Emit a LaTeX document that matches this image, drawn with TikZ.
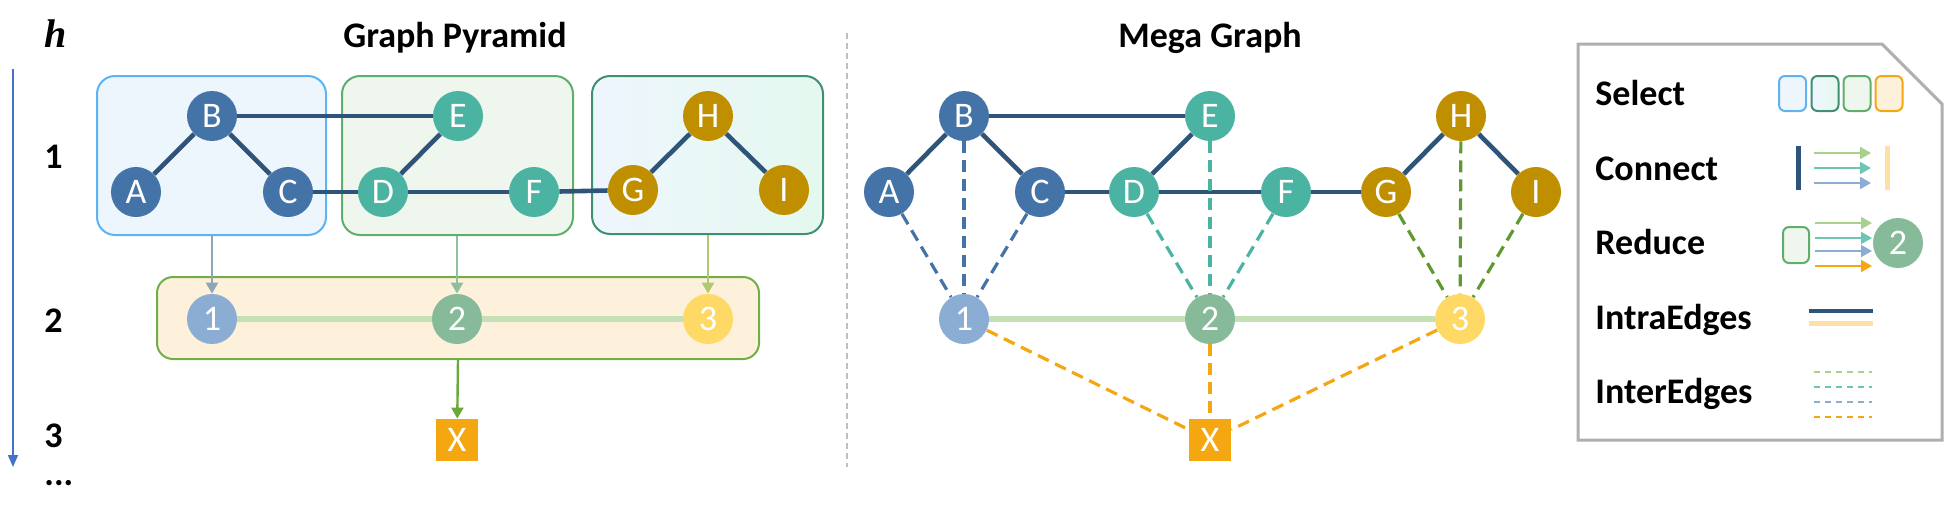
\documentclass[tikz,border=0pt]{standalone}
\usepackage{amsmath, amssymb}
\usepackage{fontspec}
\setmainfont{Carlito}
\newfontfamily\hfont{Liberation Serif}
\usetikzlibrary{arrows.meta}

\definecolor{edgeblue}{HTML}{2F5479}
\definecolor{nblue}{HTML}{4473A8}
\definecolor{nteal}{HTML}{4BB3A1}
\definecolor{ngold}{HTML}{BF8F00}
\definecolor{sblue}{HTML}{8CADD3}
\definecolor{sgreen}{HTML}{87BA99}
\definecolor{syellow}{HTML}{FFD966}
\definecolor{xorange}{HTML}{F5A712}
\definecolor{lgreen}{HTML}{C5E0B4}
\definecolor{boxfblue}{HTML}{EEF6FD}
\definecolor{boxdblue}{HTML}{5EB4F3}
\definecolor{boxfgreen}{HTML}{EFF6EE}
\definecolor{boxdgreen}{HTML}{5DAF6B}
\definecolor{boxdteal}{HTML}{3F8F70}
\definecolor{boxfmint}{HTML}{E4F8EF}
\definecolor{boxforange}{HTML}{FEF1DC}
\definecolor{boxdlime}{HTML}{71AE47}
\definecolor{arrgray}{HTML}{8FA5B8}
\definecolor{arrsage}{HTML}{8FBF9E}
\definecolor{arrlime}{HTML}{B0C872}
\definecolor{arrgreen}{HTML}{6AAA3A}
\definecolor{dashgreen}{HTML}{5F9A30}
\definecolor{legsand}{HTML}{FFE0A3}
\definecolor{leglime}{HTML}{A9D18E}
\definecolor{legteal}{HTML}{6DC6B1}
\definecolor{hblue}{HTML}{4472C4}
\definecolor{leggray}{HTML}{AFAFAF}

\begin{document}
\begin{tikzpicture}[x=0.5pt, y=-0.5pt,
		vert/.style={circle, minimum size=25pt, inner sep=0pt, text=white, font=\fontsize{18}{18}\selectfont},
		group/.style={rounded corners=9pt, line width=1pt, inner sep=0pt},
		intra/.style={edgeblue, line width=2.3pt},
		inter/.style={line width=1.6pt, dash pattern=on 6pt off 3.5pt},
		merge/.style={lgreen, line width=3.2pt},
		feed/.style={line width=1.2pt, -{Triangle[length=5.5pt,width=6pt]}},
		lbl/.style={font=\fontsize{18}{18}\selectfont\bfseries, inner sep=0pt},
		swatch/.style={rounded corners=3pt, line width=1pt, minimum width=13.5pt, minimum height=17.5pt, inner sep=0pt}]
		\useasboundingbox (0,0) rectangle (1944,515);

		% titles and levels
		\node[anchor=base west, inner sep=0pt, font=\fontsize{20}{20}\hfont\bfseries\itshape] (hlab) at (44,47) {h};
		\node[lbl, anchor=base] (tpyr) at (455,47) {Graph Pyramid};
		\node[lbl, anchor=base] (tmega) at (1210,47) {Mega Graph};
		\node[lbl, anchor=base west] (lev1) at (44,168) {1};
		\node[lbl, anchor=base west] (lev2) at (44,332) {2};
		\node[lbl, anchor=base west] (lev3) at (44,447) {3};
		\node[lbl, anchor=base west] (levd) at (44,485) {...};
		\coordinate (htop) at (13,69);
		\coordinate (hbot) at (13,467);
		\draw[hblue, line width=0.8pt, -{Triangle[length=6pt,width=5pt]}] (htop) -- (hbot);

		% graph pyramid
		\node[group, draw=boxdblue, fill=boxfblue, minimum width=114.5pt, minimum height=79.5pt] (gABC) at (211.5,155.5) {};
		\node[group, draw=boxdgreen, fill=boxfgreen, minimum width=115.5pt, minimum height=79.5pt] (gDEF) at (457.5,155.5) {};
		\node[group, draw=boxdteal, left color=boxfblue, right color=boxfmint, minimum width=115.5pt, minimum height=79pt] (gGHI) at (707.5,155) {};
		\node[group, rounded corners=8pt, draw=boxdlime, fill=boxforange, minimum width=301pt, minimum height=41pt] (g123) at (458,318) {};

		\node[vert, fill=nblue] (pA) at (136,192) {A};
		\node[vert, fill=nblue] (pB) at (212,116) {B};
		\node[vert, fill=nblue] (pC) at (288,192) {C};
		\node[vert, fill=nteal] (pD) at (383,192) {D};
		\node[vert, fill=nteal] (pE) at (458,116) {E};
		\node[vert, fill=nteal] (pF) at (534,192) {F};
		\node[vert, fill=ngold] (pG) at (633,190) {G};
		\node[vert, fill=ngold] (pH) at (708,116) {H};
		\node[vert, fill=ngold] (pI) at (784,190) {I};
		\draw[intra] (pA) -- (pB);
		\draw[intra] (pB) -- (pC);
		\draw[intra] (pB) -- (pE);
		\draw[intra] (pC) -- (pD);
		\draw[intra] (pD) -- (pE);
		\draw[intra] (pD) -- (pF);
		\draw[intra] (pF) -- (pG);
		\draw[intra] (pG) -- (pH);
		\draw[intra] (pH) -- (pI);

		\node[vert, fill=sblue] (p1) at (212,319) {1};
		\node[vert, fill=sgreen] (p2) at (457,319) {2};
		\node[vert, fill=syellow] (p3) at (708,319) {3};
		\draw[merge] (p1) -- (p2);
		\draw[merge] (p2) -- (p3);
		\node[vert, rectangle, minimum size=21pt, fill=xorange] (pX) at (457,440) {X};

		\draw[feed, arrgray] (gABC.south -| p1) -- (p1);
		\draw[feed, arrsage] (gDEF.south -| p2) -- (p2);
		\draw[feed, arrlime] (gGHI.south -| p3) -- (p3);
		\draw[feed, arrgreen] (g123.south) -- (pX);

		\draw[black!25, line width=0.7pt, dash pattern=on 3pt off 2pt] (847,33) -- (847,467);

		% mega graph
		\node[vert, fill=nblue] (mA) at (889,192) {A};
		\node[vert, fill=nblue] (mB) at (964,116) {B};
		\node[vert, fill=nblue] (mC) at (1040,192) {C};
		\node[vert, fill=nteal] (mD) at (1134,192) {D};
		\node[vert, fill=nteal] (mE) at (1210,116) {E};
		\node[vert, fill=nteal] (mF) at (1286,192) {F};
		\node[vert, fill=ngold] (mG) at (1386,192) {G};
		\node[vert, fill=ngold] (mH) at (1461,116) {H};
		\node[vert, fill=ngold] (mI) at (1536,192) {I};
		\draw[intra] (mA) -- (mB);
		\draw[intra] (mB) -- (mC);
		\draw[intra] (mB) -- (mE);
		\draw[intra] (mC) -- (mD);
		\draw[intra] (mD) -- (mE);
		\draw[intra] (mD) -- (mF);
		\draw[intra] (mF) -- (mG);
		\draw[intra] (mG) -- (mH);
		\draw[intra] (mH) -- (mI);

		\node[vert, fill=sblue] (m1) at (964,319) {1};
		\node[vert, fill=sgreen] (m2) at (1210,319) {2};
		\node[vert, fill=syellow] (m3) at (1460,319) {3};
		\node[vert, rectangle, minimum size=21pt, fill=xorange] (mX) at (1210,440) {X};
		\draw[merge] (m1) -- (m2);
		\draw[merge] (m2) -- (m3);

		\draw[inter, nblue] (mA) -- (m1);
		\draw[inter, nblue] (mB) -- (m1);
		\draw[inter, nblue] (mC) -- (m1);
		\draw[inter, nteal] (mD) -- (m2);
		\draw[inter, nteal] (mE) -- (m2);
		\draw[inter, nteal] (mF) -- (m2);
		\draw[inter, dashgreen] (mG) -- (m3);
		\draw[inter, dashgreen] (mH) -- (m3);
		\draw[inter, dashgreen] (mI) -- (m3);
		\draw[inter, xorange] (m1) -- (mX);
		\draw[inter, xorange] (m2) -- (mX);
		\draw[inter, xorange] (m3) -- (mX);

		% legend
		\draw[leggray, line width=1.5pt] (1578,44) -- (1882,44) -- (1942,104) -- (1942,440) -- (1578,440) -- cycle;
		\node[lbl, anchor=base west] (kSel) at (1595,105) {Select};
		\node[lbl, anchor=base west] (kCon) at (1595,180) {Connect};
		\node[lbl, anchor=base west] (kRed) at (1595,254) {Reduce};
		\node[lbl, anchor=base west] (kIntra) at (1595,329) {IntraEdges};
		\node[lbl, anchor=base west] (kInter) at (1595,403) {InterEdges};

		\node[swatch, draw=boxdblue, fill=boxfblue] (sw1) at (1792.5,93.5) {};
		\node[swatch, draw=boxdteal, left color=boxfblue, right color=boxfmint] (sw2) at (1825,93.5) {};
		\node[swatch, draw=boxdgreen, fill=boxfgreen] (sw3) at (1857,93.5) {};
		\node[swatch, draw=xorange, fill=boxforange] (sw4) at (1889,93.5) {};

		\draw[edgeblue, line width=2.5pt] (1798,146) -- (1798,190);
		\draw[feed, line width=1pt, leglime] (1814,153) -- (1871,153);
		\draw[feed, line width=1pt, legteal] (1814,168) -- (1871,168);
		\draw[feed, line width=1pt, sblue] (1814,183) -- (1871,183);
		\draw[legsand, line width=2.5pt] (1887,146) -- (1887,190);

		\node[swatch, minimum width=13pt, minimum height=18pt, draw=boxdgreen, fill=boxfgreen] (swR) at (1796,245) {};
		\draw[feed, line width=1pt, leglime] (1815,223) -- (1872,223);
		\draw[feed, line width=1pt, legteal] (1815,238) -- (1872,238);
		\draw[feed, line width=1pt, sblue] (1815,251) -- (1872,251);
		\draw[feed, line width=1pt, xorange] (1815,266) -- (1872,266);
		\node[vert, fill=sgreen] (k2) at (1898,243) {2};

		\draw[edgeblue, line width=2.2pt] (1809,311) -- (1873,311);
		\draw[legsand, line width=2.5pt] (1809,323) -- (1873,323);

		\draw[leglime, line width=1pt, dash pattern=on 3pt off 2.5pt] (1814,372) -- (1872,372);
		\draw[legteal, line width=1pt, dash pattern=on 3pt off 2.5pt] (1814,387) -- (1872,387);
		\draw[sblue, line width=1pt, dash pattern=on 3pt off 2.5pt] (1814,402) -- (1872,402);
		\draw[xorange, line width=1pt, dash pattern=on 3pt off 2.5pt] (1814,417) -- (1872,417);
	\end{tikzpicture}
\end{document}
